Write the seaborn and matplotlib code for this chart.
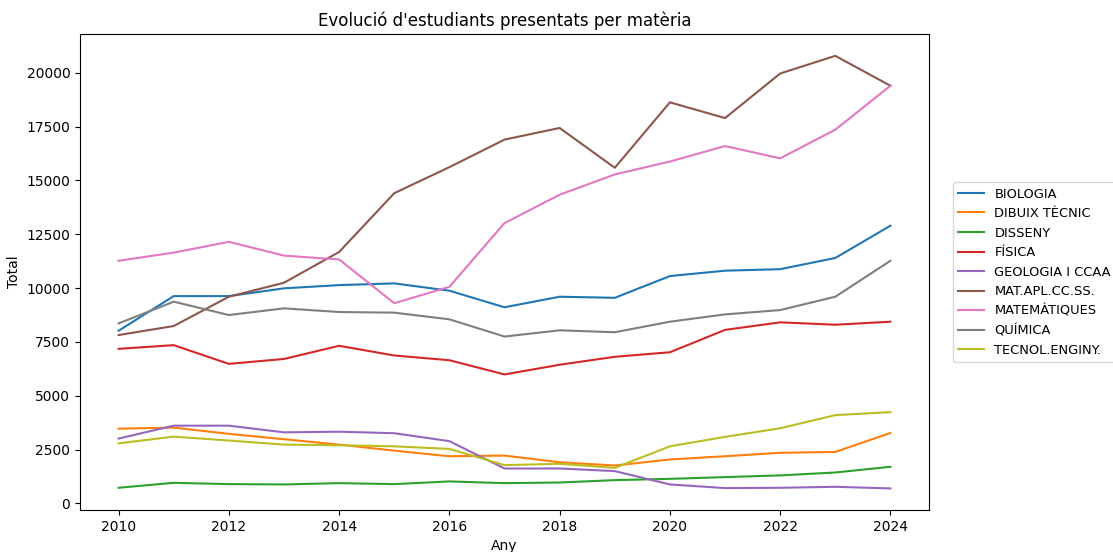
import matplotlib
matplotlib.use("Agg")
import matplotlib.pyplot as plt
import seaborn as sns
import pandas as pd

years = list(range(2010, 2025))
subjects = ["BIOLOGIA", "DIBUIX TÈCNIC", "DISSENY", "FÍSICA", "GEOLOGIA I CCAA",
            "MAT.APL.CC.SS.", "MATEMÀTIQUES", "QUÍMICA", "TECNOL.ENGINY."]

biologia = [8020, 9630, 9630, 9990, 10140, 10220, 9880, 9110, 9600, 9550, 10560, 10810, 10880, 11400, 12900]
dibuix = [3470, 3520, 3230, 2980, 2730, 2450, 2190, 2220, 1910, 1760, 2040, 2190, 2350, 2390, 3270]
disseny = [725, 955, 895, 880, 940, 895, 1020, 940, 970, 1080, 1140, 1220, 1300, 1435, 1700]
fisica = [7180, 7350, 6480, 6710, 7320, 6870, 6650, 5990, 6440, 6810, 7020, 8060, 8410, 8300, 8440]
geologia = [3010, 3610, 3610, 3300, 3330, 3260, 2890, 1620, 1620, 1500, 880, 710, 725, 770, 695]
matapl = [7820, 8240, 9600, 10250, 11680, 14410, 15620, 16900, 17440, 15590, 18630, 17900, 19970, 20790, 19400]
matematiques = [11270, 11650, 12150, 11510, 11330, 9300, 10060, 13020, 14340, 15280, 15880, 16600, 16030, 17360, 19400]
quimica = [8360, 9370, 8750, 9060, 8890, 8860, 8550, 7750, 8040, 7950, 8440, 8780, 8980, 9600, 11270]
tecnol = [2790, 3100, 2920, 2730, 2700, 2650, 2530, 1775, 1840, 1650, 2650, 3090, 3490, 4100, 4240]

series = [biologia, dibuix, disseny, fisica, geologia, matapl, matematiques, quimica, tecnol]

rows = []
for name, vals in zip(subjects, series):
    for y, v in zip(years, vals):
        rows.append({"Any": y, "Total": v, "Matèria": name})
df = pd.DataFrame(rows)

fig = plt.figure(figsize=(11.13, 5.52), dpi=100)
ax = fig.add_axes([0.0719, 0.0760, 0.7628, 0.862])
sns.lineplot(data=df, x="Any", y="Total", hue="Matèria", hue_order=subjects,
             palette="tab10", ax=ax)
ax.set_title("Evolució d'estudiants presentats per matèria")
ax.set_xlabel("Any")
ax.set_ylabel("Total")
ax.set_xticks(range(2010, 2025, 2))
ax.legend(loc="center left", bbox_to_anchor=(1.02, 0.5), title=None, fontsize=9.4)
fig.savefig("out.png", dpi=100)
